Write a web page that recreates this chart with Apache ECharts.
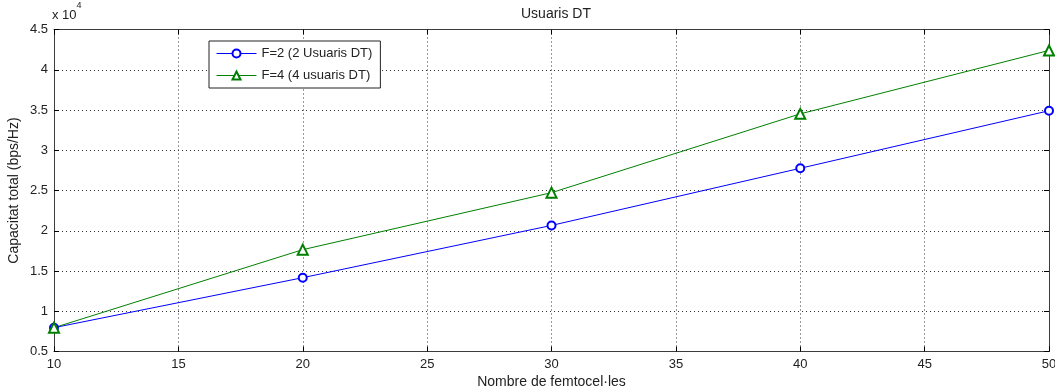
<!DOCTYPE html>
<html>
<head>
<meta charset="utf-8">
<script src="https://cdn.jsdelivr.net/npm/echarts@6/dist/echarts.min.js"></script>
<style>
  html, body { margin: 0; padding: 0; background: #fff; }
  #chart { width: 1055px; height: 391px; }
</style>
</head>
<body>
<div id="chart"></div>
<script>
// Number of femtocells on the x axis
const femtocells = [10, 20, 30, 40, 50];
// Total capacity (bps/Hz) for each configuration
const capacityF2 = [7960, 14170, 20660, 27760, 34910];
const capacityF4 = [7960, 17650, 24730, 34520, 42400];
const seriesNames = ['F=2 (2 Usuaris DT)', 'F=4 (4 usuaris DT)'];
const xTicks = [10, 15, 20, 25, 30, 35, 40, 45, 50];
const yTickLabels = ['0.5', '1', '1.5', '2', '2.5', '3', '3.5', '4', '4.5'];

const FONT = 'Liberation Sans, Arial, sans-serif';
const chart = echarts.init(document.getElementById('chart'), null, { renderer: 'canvas' });

const tickStyle = { show: true, inside: true, length: 5, lineStyle: { color: '#000', width: 1 } };
const boxLine = { show: true, lineStyle: { color: '#3c3c3c', width: 1 } };
const dotted = { show: true, lineStyle: { color: '#333', type: [1, 3], width: 1 } };

chart.setOption({
  animation: false,
  backgroundColor: '#fff',
  title: {
    text: 'Usuaris DT',
    left: 551, top: 2, textAlign: 'center',
    textStyle: { fontFamily: FONT, fontSize: 14, fontWeight: 'normal', color: '#222' }
  },
  grid: {
    left: 54, right: 6, top: 29.5, bottom: 39.5,
    containLabel: false, outerBoundsMode: 'none'
  },
  legend: {
    left: 209, top: 41, orient: 'vertical',
    itemWidth: 40, itemHeight: 10, itemGap: 9,
    padding: [6, 8, 6, 7],
    borderColor: '#222', borderWidth: 1, backgroundColor: '#fff',
    lineStyle: { width: 1 },
    itemStyle: { borderWidth: 1 },
    textStyle: { fontFamily: FONT, fontSize: 13, color: '#222' },
    data: seriesNames
  },
  graphic: [{
    type: 'text', left: 52, top: 1,
    style: {
      text: '{b|x 10}{s|4}',
      rich: {
        b: { fontFamily: FONT, fontSize: 13, fill: '#222', padding: [8, 0, 0, 0] },
        s: { fontFamily: FONT, fontSize: 9, fill: '#222', verticalAlign: 'top', padding: [0, 0, 8, 0] }
      }
    }
  }],
  xAxis: [{
    type: 'value', min: 10, max: 50, interval: 5, position: 'bottom',
    name: 'Nombre de femtocel·les', nameLocation: 'middle', nameGap: 24,
    nameMoveOverlap: false,
    nameTextStyle: { fontFamily: FONT, fontSize: 14, color: '#222' },
    axisLine: boxLine, axisTick: tickStyle, splitLine: dotted,
    axisLabel: {
      margin: 6, fontFamily: FONT, fontSize: 13, color: '#222',
      formatter: v => xTicks.includes(v) ? String(v) : ''
    }
  }, {
    type: 'value', min: 10, max: 50, interval: 5, position: 'top',
    axisLine: boxLine, axisTick: tickStyle, splitLine: { show: false }, axisLabel: { show: false }
  }],
  yAxis: [{
    type: 'value', min: 5000, max: 45000, interval: 5000, position: 'left',
    name: 'Capacitat total (bps/Hz)', nameLocation: 'middle', nameGap: 33,
    nameMoveOverlap: false,
    nameTextStyle: { fontFamily: FONT, fontSize: 14, color: '#222' },
    axisLine: boxLine, axisTick: tickStyle, splitLine: dotted,
    axisLabel: {
      margin: 6, fontFamily: FONT, fontSize: 13, color: '#222',
      formatter: v => yTickLabels[Math.round(v / 5000) - 1]
    }
  }, {
    type: 'value', min: 5000, max: 45000, interval: 5000, position: 'right',
    axisLine: boxLine, axisTick: tickStyle, splitLine: { show: false }, axisLabel: { show: false }
  }],
  series: [{
    name: seriesNames[0], type: 'line',
    data: femtocells.map((x, i) => [x, capacityF2[i]]),
    symbol: 'emptyCircle', symbolSize: 8,
    color: '#0000ff',
    lineStyle: { color: '#0000ff', width: 1 },
    itemStyle: { color: '#0000ff', borderColor: '#0000ff', borderWidth: 1 }
  }, {
    name: seriesNames[1], type: 'line',
    data: femtocells.map((x, i) => [x, capacityF4[i]]),
    symbol: 'emptyTriangle', symbolSize: 10,
    color: '#008000',
    lineStyle: { color: '#008000', width: 1 },
    itemStyle: { color: '#008000', borderColor: '#008000', borderWidth: 1 }
  }]
});
</script>
</body>
</html>
